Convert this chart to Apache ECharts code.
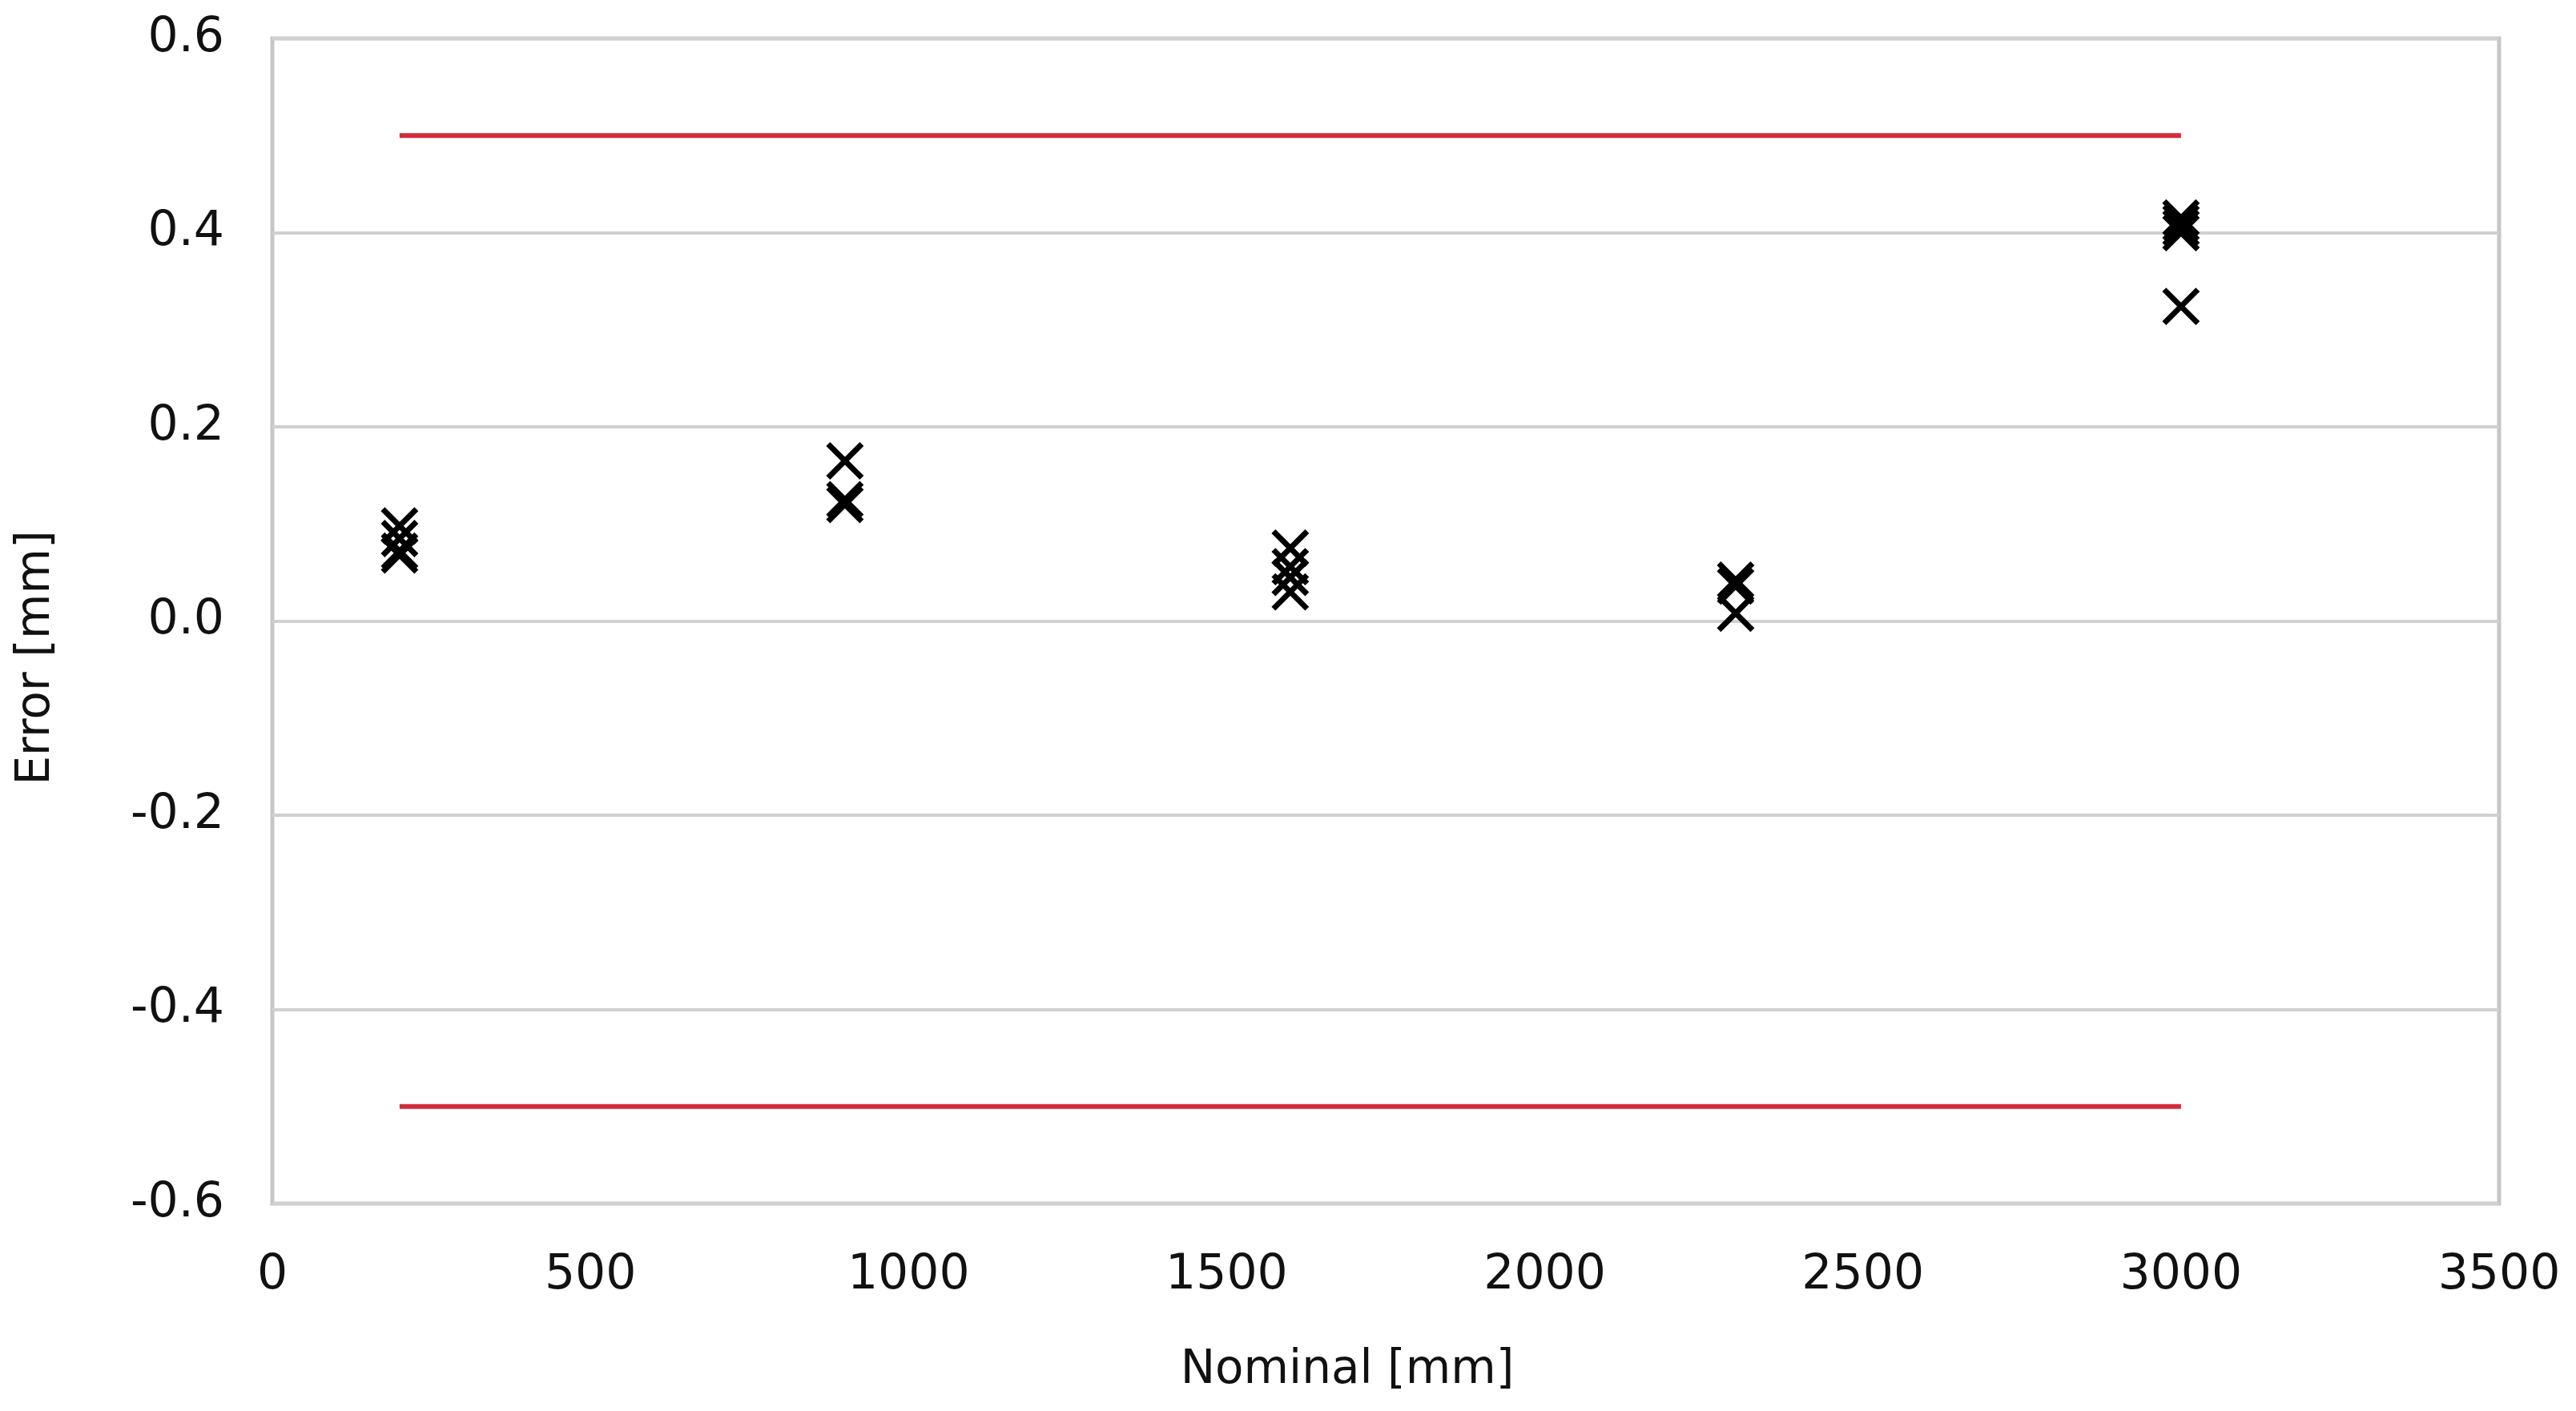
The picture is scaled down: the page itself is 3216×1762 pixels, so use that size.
<!DOCTYPE html>
<html>
<head>
<meta charset="utf-8">
<script src="https://cdn.jsdelivr.net/npm/echarts@6/dist/echarts.min.js"></script>
<style>
  html, body { margin: 0; padding: 0; background: #fff; }
  #chart { width: 3216px; height: 1762px; }
</style>
</head>
<body>
<div id="chart"></div>
<script>
  // measured points: nominal length vs. error
  const nominal = [200, 200, 200, 200, 900, 900, 900, 1600, 1600, 1600, 1600, 2300, 2300, 2300, 3000, 3000, 3000, 3000, 3000]
  const error = [0.098, 0.085, 0.072, 0.068, 0.165, 0.125, 0.12, 0.075, 0.056, 0.045, 0.03, 0.042, 0.036, 0.008, 0.415, 0.41, 0.405, 0.40, 0.324]
  // tolerance limits
  const limitX = [200, 3000]
  const upperLimit = [0.5, 0.5]
  const lowerLimit = [-0.5, -0.5]

  const font = 'DejaVu Sans'
  const chart = echarts.init(document.getElementById('chart'))

  const option = {
    backgroundColor: '#fff',
    animation: false,
    grid: {
      left: 340,
      right: 96,
      top: 48,
      bottom: 259,
      show: true,
      borderColor: '#c6c6c6',
      borderWidth: 5
    },
    xAxis: {
      type: 'value',
      min: 0,
      max: 3500,
      interval: 500,
      name: 'Nominal [mm]',
      nameLocation: 'middle',
      nameGap: 180,
      nameTextStyle: { fontFamily: font, fontSize: 58, color: '#111', padding: [0, 96, 0, 0] },
      axisLine: { show: false },
      axisTick: { show: false },
      splitLine: { show: false },
      axisLabel: {
        fontFamily: font, fontSize: 60, color: '#111', margin: 60,
        formatter: v => String(v)
      }
    },
    yAxis: {
      type: 'value',
      min: -0.6,
      max: 0.6,
      interval: 0.2,
      name: 'Error [mm]',
      nameLocation: 'middle',
      nameGap: 265,
      nameTextStyle: { fontFamily: font, fontSize: 58, color: '#111', padding: [0, 92, 0, 0] },
      axisLine: { show: false },
      axisTick: { show: false },
      splitLine: { lineStyle: { color: '#d0d0d0', width: 4 } },
      axisLabel: {
        fontFamily: font, fontSize: 60, color: '#111', margin: 60,
        formatter: v => v.toFixed(1)
      }
    },
    series: [
      {
        type: 'line',
        data: limitX.map((x, i) => [x, upperLimit[i]]),
        showSymbol: false,
        lineStyle: { color: '#d42a3a', width: 6 },
        z: 2
      },
      {
        type: 'line',
        data: limitX.map((x, i) => [x, lowerLimit[i]]),
        showSymbol: false,
        lineStyle: { color: '#d42a3a', width: 6 },
        z: 2
      },
      {
        type: 'scatter',
        data: nominal.map((x, i) => [x, error[i]]),
        symbol: 'path://M0,0L10,10M10,0L0,10',
        symbolSize: 42,
        itemStyle: { color: 'transparent', borderColor: '#000', borderWidth: 7, opacity: 1 },
        z: 3
      }
    ]
  }
  chart.setOption(option)
</script>
</body>
</html>
